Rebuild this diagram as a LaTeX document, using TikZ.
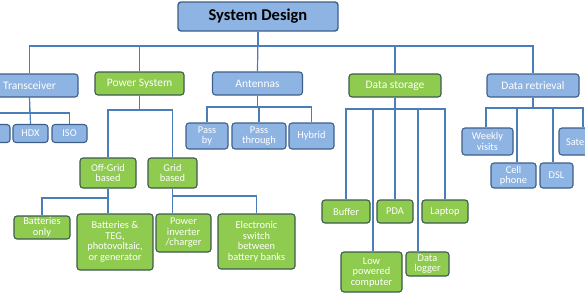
\documentclass[tikz,border=0pt]{standalone}
\usepackage{fontspec}
\setmainfont{Carlito}
\usetikzlibrary{backgrounds}
\definecolor{lineblue}{HTML}{4A7EBB}
\definecolor{boxblue}{HTML}{8EB4E3}
\definecolor{edgeblue}{HTML}{3E5F8A}
\definecolor{boxgreen}{HTML}{8FCB4E}
\definecolor{edgegreen}{HTML}{3D5B4E}
\begin{document}
\begin{tikzpicture}[x=1pt,y=-1pt,
  bx/.style={draw=edgeblue, fill=boxblue, line width=1.1pt, rounded corners=3pt,
    text=white, align=center, inner sep=1pt, font=\fontsize{10.4}{10.5}\selectfont},
  gx/.style={bx, draw=edgegreen, fill=boxgreen},
  topl/.style={font=\fontsize{11.5}{13}\selectfont},
  ln/.style={draw=lineblue, line width=1.2pt}]
\useasboundingbox (0,0) rectangle (585,295);
\clip (0,0) rectangle (585,295);
% coordinates for buses
\coordinate (b0) at (0,46);
\coordinate (bt) at (0,113);
\coordinate (bp) at (0,110);
\coordinate (ba) at (0,107);
\coordinate (bs) at (0,109);
\coordinate (br) at (0,108);
\coordinate (bo) at (0,198);
\coordinate (bg) at (0,196);
% top
\node[bx, text=black, line width=1.4pt, font=\fontsize{16.5}{18}\selectfont\bfseries,
  minimum width=160pt, minimum height=29pt] (sd) at (258,16.5) {System Design};
% level 1
\node[bx, topl, minimum width=97pt, minimum height=23pt] (trans) at (29.5,85.5) {Transceiver};
\node[gx, topl, minimum width=89pt, minimum height=23pt] (power) at (139.5,83.5) {Power System};
\node[bx, topl, minimum width=90pt, minimum height=23pt] (ant) at (257.5,83.5) {Antennas};
\node[gx, topl, minimum width=92pt, minimum height=23pt] (dstor) at (395,85.5) {Data storage};
\node[bx, topl, minimum width=92pt, minimum height=23pt] (dret) at (533,85.5) {Data retrieval};
% transceiver children
\node[bx, minimum width=35pt, minimum height=18pt] (epc) at (-7.5,133.5) {EPC};
\node[bx, minimum width=35pt, minimum height=18pt] (hdx) at (30.5,133.5) {HDX};
\node[bx, minimum width=35pt, minimum height=18pt] (iso) at (69.5,133.5) {ISO};
% antennas children
\node[bx, minimum width=42pt, minimum height=26pt] (passby) at (207,136) {Pass\\by};
\node[bx, minimum width=54pt, minimum height=26pt] (passth) at (259,136) {Pass\\through};
\node[bx, minimum width=45pt, minimum height=26pt] (hybrid) at (311.5,136) {Hybrid};
% power children
\node[gx, minimum width=56pt, minimum height=30pt] (offg) at (108,173) {Off-Grid\\based};
\node[gx, minimum width=49pt, minimum height=30pt] (grid) at (172.5,173) {Grid\\based};
\node[gx, minimum width=56pt, minimum height=23pt] (bonly) at (42,227.5) {Batteries\\only};
\node[gx, minimum width=76pt, minimum height=56pt] (bteg) at (115,242) {Batteries \&\\TEG,\\photovoltaic,\\or generator};
\node[gx, minimum width=55pt, minimum height=38pt] (pinv) at (183.5,233) {Power\\inverter\\/charger};
\node[gx, minimum width=77pt, minimum height=55pt] (eswitch) at (256.5,241.5) {Electronic\\switch\\between\\battery banks};
% data storage children
\node[gx, minimum width=48pt, minimum height=23pt] (buffer) at (346,211.5) {Buffer};
\node[gx, minimum width=36pt, minimum height=23pt] (pda) at (395,211.5) {PDA};
\node[gx, minimum width=46pt, minimum height=23pt] (laptop) at (445,211.5) {Laptop};
\node[gx, minimum width=61pt, minimum height=40pt] (lowpc) at (371.5,272) {Low\\powered\\computer};
\node[gx, minimum width=43pt, minimum height=24pt] (dlog) at (427.5,264) {Data\\logger};
% data retrieval children
\node[bx, minimum width=51pt, minimum height=27pt] (weekly) at (487.5,141.5) {Weekly\\visits};
\node[bx, minimum width=45pt, minimum height=25pt] (cell) at (513.5,175.5) {Cell\\phone};
\node[bx, minimum width=33pt, minimum height=25pt] (dsl) at (556.5,175.5) {DSL};
\node[bx, minimum width=48pt, minimum height=27pt] (sat) at (583,141.5) {Satellite};
\begin{scope}[on background layer]
\fill[white] (0,0) rectangle (585,295);
% level 0 -> 1
\draw[ln] (sd.south) -- (sd.south |- b0) -| (trans.north);
\draw[ln] (sd.south) -- (sd.south |- b0) -| (power.north);
\draw[ln] (sd.south) -- (ant.north);
\draw[ln] (sd.south) -- (sd.south |- b0) -| (dstor.north);
\draw[ln] (sd.south) -- (sd.south |- b0) -| (dret.north);
% transceiver
\draw[ln] (trans.south) -- (trans.south |- bt) -| (epc.north);
\draw[ln] (trans.south) -- (hdx.north);
\draw[ln] (trans.south) -- (trans.south |- bt) -| (iso.north);
% antennas
\draw[ln] (ant.south) -- (ant.south |- ba) -| (passby.north);
\draw[ln] (ant.south) -- (ant.south |- ba) -| (passth.north);
\draw[ln] (ant.south) -- (ant.south |- ba) -| (hybrid.north);
% power
\draw[ln] (power.south) -- (power.south |- bp) -| (offg.north);
\draw[ln] (power.south) -- (power.south |- bp) -| (grid.north);
\draw[ln] (offg.south) -- (offg.south |- bo) -| (bonly.north);
\draw[ln] (offg.south) -- (offg.south |- bteg.north);
\draw[ln] (grid.south) -- (grid.south |- pinv.north);
\draw[ln] (grid.south) -- (grid.south |- bg) -| (eswitch.north);
% data storage
\draw[ln] (dstor.south) -- (dstor.south |- bs) -| (buffer.north);
\draw[ln] (dstor.south) -- (pda.north);
\draw[ln] (dstor.south) -- (dstor.south |- bs) -| (laptop.north);
\draw[ln] (dstor.south) -- (dstor.south |- bs) -| ([xshift=1.5pt]lowpc.north);
\draw[ln] (dstor.south) -- (dstor.south |- bs) -| ([xshift=-9.5pt]dlog.north);
% data retrieval
\draw[ln] (dret.south) -- (dret.south |- br) -| ([xshift=-1.5pt]weekly.north);
\draw[ln] (dret.south) -- (dret.south |- br) -| ([xshift=3.5pt]cell.north);
\draw[ln] (dret.south) -- (dret.south |- br) -| ([xshift=-3.5pt]dsl.north);
\draw[ln] (dret.south) -- (dret.south |- br) -| (sat.north);
\end{scope}
\end{tikzpicture}
\end{document}
